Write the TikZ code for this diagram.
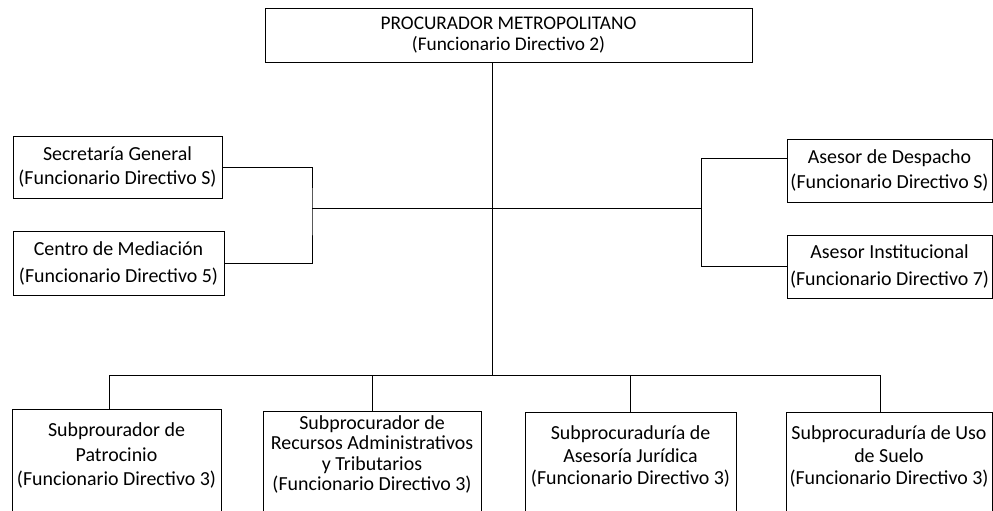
\documentclass[tikz,border=0pt]{standalone}
\usepackage{fontspec}
\setmainfont{Carlito}
\usetikzlibrary{positioning}

\begin{document}
\begin{tikzpicture}[x=0.03cm, y=-0.03cm, semithick,
    box/.style={draw, align=center, inner sep=0pt, font=\fontsize{17}{21}\selectfont},
    unit/.style={box, anchor=north, text depth=2.5cm}]
    \useasboundingbox (0,0) rectangle (993,511);
    \clip (0,0) rectangle (993,511);

    % Nodes
    \node[box, minimum width=14.61cm, minimum height=1.62cm, font=\fontsize{16.5}{17.5}\selectfont] (proc) at (508.5,35) {PROCURADOR METROPOLITANO\\(Funcionario Directivo 2)};
    \node[box, minimum width=6.27cm, minimum height=1.86cm] (sec) at (117.5,167) {Secretaría General\\(Funcionario Directivo S)};
    \node[box, minimum width=6.33cm, minimum height=1.92cm, font=\fontsize{17}{23}\selectfont] (cen) at (118.5,263) {Centro de Mediación\\(Funcionario Directivo 5)};
    \node[box, minimum width=6.15cm, minimum height=1.89cm] (ase) at (889.5,170.5) {Asesor de Despacho\\(Funcionario Directivo S)};
    \node[box, minimum width=6.15cm, minimum height=1.89cm, font=\fontsize{17}{23}\selectfont] (ins) at (889.5,266.5) {Asesor Institucional\\(Funcionario Directivo 7)};
    \node[unit, minimum width=6.27cm, inner ysep=0.4cm, font=\fontsize{17}{21}\selectfont] (sub1) at (116.5,409) {Subprourador de\\Patrocinio\\(Funcionario Directivo 3)};
    \node[unit, minimum width=6.54cm, inner ysep=0.12cm, font=\fontsize{17}{17.5}\selectfont] (sub2) at (372,411) {Subprocurador de\\Recursos Administrativos\\y Tributarios\\(Funcionario Directivo 3)};
    \node[unit, minimum width=6.33cm, inner ysep=0.39cm, font=\fontsize{17}{19.5}\selectfont] (sub3) at (630.5,412) {Subprocuraduría de\\Asesoría Jurídica\\(Funcionario Directivo 3)};
    \node[unit, minimum width=6.18cm, inner ysep=0.39cm, font=\fontsize{17}{19.5}\selectfont] (sub4) at (889,412) {Subprocuraduría de Uso\\de Suelo\\(Funcionario Directivo 3)};

    \coordinate (lj) at (312,208);
    \coordinate (rj) at (701,208);
    \coordinate (bus) at (492,375);
    \coordinate (d1) at ([xshift=-0.2cm]sub1.north);
    \coordinate (d4) at ([xshift=-0.27cm]sub4.north);

    % Edges
    \draw (proc.south -| bus) -- (bus);
    \draw (sec.east) -| (lj) |- (cen.east);
    \draw (lj) -- (rj);
    \draw ([yshift=0.37cm]ase.west) -| (rj) |- (ins.west);
    \draw (d1) -- (d1 |- bus) -- (d4 |- bus) -- (d4);
    \draw (sub2.north) -- (sub2.north |- bus);
    \draw (sub3.north) -- (sub3.north |- bus);
\end{tikzpicture}
\end{document}
